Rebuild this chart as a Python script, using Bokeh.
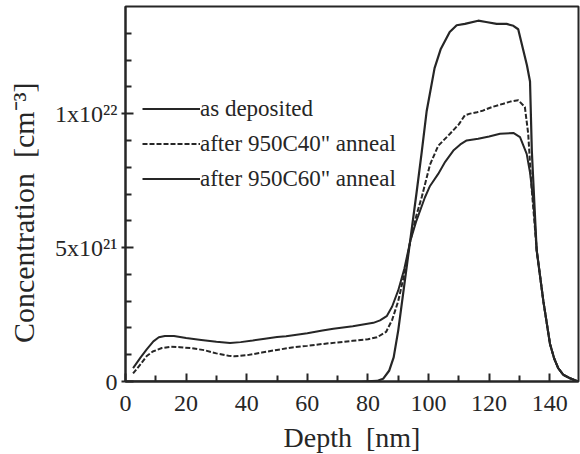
from bokeh.plotting import figure
from bokeh.models import FixedTicker, Legend, LegendItem, Range1d
from bokeh.embed import file_html
from bokeh.resources import INLINE

# Depth [nm] and concentration in units of 1e21 cm^-3
depth_as_dep = [0, 78, 83, 85, 87, 88.5, 90, 92, 94, 96, 97.8, 99.4, 102, 104, 107, 109.3, 112, 116.4, 119,
                122.5, 125.8, 128, 129.6, 131.2, 132.5, 133.5, 134.1, 135, 135.7, 137.9, 140.1, 141.5, 142.8,
                144.5, 146.7, 149.4]
conc_as_dep = [0, 0, 0.02, 0.1, 0.4, 0.9, 1.9, 3.6, 5.3, 7.0, 8.6, 10.1, 11.7, 12.4, 13.05, 13.3, 13.35, 13.47,
               13.42, 13.35, 13.35, 13.28, 13.15, 12.4, 11.8, 11.2, 8.6, 6.5, 4.9, 3.0, 1.4, 0.85, 0.5, 0.25,
               0.12, 0]

depth_40s = [2.5, 5, 7, 9, 12, 15, 18, 22, 26, 30, 34, 36, 40, 45, 50, 55, 60, 65, 70, 75, 80, 83, 86, 88, 90,
             92, 94, 96, 97.8, 100.5, 103.2, 107.1, 110, 112, 113.7, 116, 118.1, 121, 124.7, 127, 129.6, 131.8,
             132.9, 134, 135, 135.7, 137.9, 140.1, 141.5, 142.8, 144.5, 146.7, 149.4]
conc_40s = [0.3, 0.65, 0.95, 1.12, 1.25, 1.3, 1.28, 1.24, 1.17, 1.05, 0.96, 0.94, 0.98, 1.08, 1.18, 1.27, 1.33,
            1.4, 1.46, 1.52, 1.58, 1.65, 1.85, 2.3, 3.0, 4.0, 5.25, 6.2, 6.9, 8.1, 8.8, 9.25, 9.6, 9.94, 10.0,
            10.05, 10.12, 10.25, 10.37, 10.45, 10.5, 10.25, 9.25, 7.25, 5.9, 4.9, 3.0, 1.4, 0.85, 0.5, 0.25,
            0.12, 0]

depth_60s = [2.5, 5, 7, 9.2, 11, 13, 16, 20, 25, 30, 34.5, 38, 42, 46, 50, 53, 60, 65, 68.6, 75, 81.8, 84, 86.2,
             88, 90, 92, 94, 96, 98.8, 100.5, 103.2, 105.5, 108.2, 110.5, 112.6, 116.4, 120, 123.6, 128, 130.2,
             132.4, 133.5, 134.6, 135.7, 137.9, 140.1, 141.5, 142.8, 144.5, 146.7, 149.4]
conc_60s = [0.5, 0.9, 1.2, 1.5, 1.65, 1.7, 1.7, 1.62, 1.55, 1.48, 1.44, 1.47, 1.53, 1.6, 1.66, 1.69, 1.8, 1.9,
            1.97, 2.06, 2.19, 2.28, 2.44, 2.8, 3.4, 4.2, 5.25, 6.0, 6.87, 7.3, 7.75, 8.2, 8.62, 8.85, 9.0, 9.06,
            9.15, 9.25, 9.28, 9.12, 8.5, 7.8, 6.75, 4.9, 3.0, 1.4, 0.85, 0.5, 0.25, 0.12, 0]

x_major = [0, 20, 40, 60, 80, 100, 120, 140]
x_minor = [10, 30, 50, 70, 90, 110, 130]
y_major = [0, 5, 10]
y_minor = [1, 2, 3, 4, 6, 7, 8, 9, 11, 12, 13]
y_labels = {0: "0", 5: "5x10²¹", 10: "1x10²²"}
legend_labels = ["as deposited", "after 950C40\" anneal", "after 950C60\" anneal"]
x_title = "Depth\u00a0\u00a0[nm]"
y_title = "Concentration\u00a0\u00a0[cm⁻³]" + "\u00a0" * 5

FONT = "Liberation Serif"
INK = "#262626"

p = figure(width=580, height=454, output_backend="svg", toolbar_location=None,
           x_range=Range1d(0, 149.5), y_range=Range1d(0, 14.0),
           min_border_left=125, min_border_right=2, min_border_top=6, min_border_bottom=73)
p.frame_width = 453
p.frame_height = 375

r1 = p.line(depth_as_dep, conc_as_dep, line_color=INK, line_width=2.2)
r2 = p.line(depth_40s, conc_40s, line_color=INK, line_width=2, line_dash="5 2")
r3 = p.line(depth_60s, conc_60s, line_color=INK, line_width=2)

p.xgrid.visible = False
p.ygrid.visible = False
p.outline_line_color = INK
p.outline_line_width = 2
p.background_fill_color = "white"
p.border_fill_color = "white"

xa = p.xaxis[0]
xa.ticker = FixedTicker(ticks=x_major, minor_ticks=x_minor)
ya = p.yaxis[0]
ya.ticker = FixedTicker(ticks=y_major, minor_ticks=y_minor)
ya.major_label_overrides = y_labels

for ax in (xa, ya):
    ax.axis_line_color = INK
    ax.axis_line_width = 2
    ax.major_tick_in = 8
    ax.major_tick_out = 0
    ax.minor_tick_in = 6
    ax.minor_tick_out = 0
    ax.major_tick_line_color = INK
    ax.major_tick_line_width = 2
    ax.minor_tick_line_color = INK
    ax.minor_tick_line_width = 2
    ax.major_label_text_font = FONT
    ax.major_label_text_font_size = "24px"
    ax.major_label_text_color = INK
    ax.axis_label_text_font = FONT
    ax.axis_label_text_font_style = "normal"
    ax.axis_label_text_color = INK

xa.axis_label_text_font_size = "28px"
ya.axis_label_text_font_size = "30px"
ya.major_tick_out = 4
xa.axis_label = x_title
ya.axis_label = y_title
xa.major_label_standoff = 14
ya.major_label_standoff = 4
xa.axis_label_standoff = 8
ya.axis_label_standoff = 12

legend = Legend(items=[LegendItem(label=legend_labels[0], renderers=[r1]),
                       LegendItem(label=legend_labels[1], renderers=[r2]),
                       LegendItem(label=legend_labels[2], renderers=[r3])],
                location=(17, 185), glyph_width=58, glyph_height=35, label_height=35,
                label_standoff=0, spacing=0, padding=0, margin=0,
                border_line_color=None, background_fill_alpha=0,
                label_text_font=FONT, label_text_font_size="23px", label_text_color=INK)
p.add_layout(legend)

open("out.html", "w").write(file_html(p, INLINE))
